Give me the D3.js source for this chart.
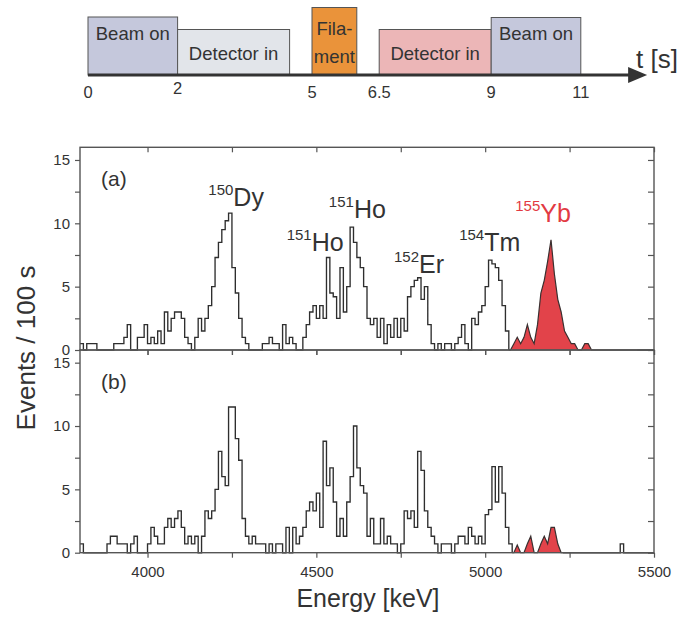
<!DOCTYPE html>
<html>
<head>
<meta charset="utf-8">
<script src="https://cdn.jsdelivr.net/npm/d3@7"></script>
<style>
body { margin: 0; background: #fff; }
svg text { font-family: "Liberation Sans", Arial, Helvetica, sans-serif; fill: #333; }
</style>
</head>
<body>
<svg id="chart" width="697" height="619"></svg>
<script>
// --- timing scheme (seconds) ---
var phaseNames = ["Beam on", "Detector in", "Fila-|ment", "Detector in", "Beam on"];
var phaseStart = [0, 2, 5, 6.5, 9];
var phaseEnd = [2, 4.5, 6, 9, 11];
var timeTicks = [0, 2, 5, 6.5, 9, 11];

// --- spectra: events / 100 s per 10 keV bin, starting at 3800 keV ---
var binStart = 3800;
var binWidth = 10;
var countsA = [
  0.5, 0, 0.5, 0.5, 0.5, 0, 0, 0, 0, 0,            // 3800
  0.5, 0.5, 0.5, 1, 2, 0, 0, 1, 1, 2,              // 3900
  0.5, 1, 0.5, 1.5, 0.5, 3, 1.5, 2.5, 3, 3,        // 4000
  2.5, 1, 0.5, 0, 1, 2.5, 1.5, 2.5, 3.5, 5,        // 4100
  7.3, 8.5, 9.5, 10.2, 10.8, 6.5, 4.5, 2.5, 1, 0.5,// 4200
  0, 0, 0, 0, 0.5, 0.5, 1, 0.5, 0.5, 0,            // 4300
  2, 0.5, 1, 0.5, 0, 0, 1, 2, 3, 3.5,              // 4400
  2.5, 3.5, 2.5, 7.3, 4.5, 4.2, 2.5, 6.5, 3, 5,    // 4500
  9.7, 8.5, 7.3, 6.5, 5, 2.5, 2, 2.5, 1, 2.5,      // 4600
  0.5, 2, 1, 2.5, 1, 2.5, 1.5, 4.2, 5, 5.5,        // 4700
  5.7, 4, 5, 2, 0.5, 0, 0.5, 0, 0.5, 0.5,          // 4800
  0, 0.5, 1, 2, 0.5, 0, 2.5, 2, 3, 3.5,            // 4900
  5, 7.1, 6.8, 6.5, 5.5, 3.5, 1.5, 0, 0.5, 1,      // 5000
  0.5, 1, 2, 1, 0.5, 2, 4.5, 5.5, 7, 8.7,          // 5100
  6, 4, 3, 1.5, 1, 0.5, 0.5, 0, 0, 0.5,            // 5200
  0.5, 0, 0, 0, 0, 0, 0, 0, 0, 0,                  // 5300
  0, 0, 0, 0, 0, 0, 0, 0, 0, 0                     // 5400
];
var countsB = [
  0.7, 0, 0, 0, 0, 0, 0, 0, 0.7, 1.3,              // 3800
  1.3, 0.7, 0.7, 0.7, 0, 0.7, 1.3, 0, 0, 0,        // 3900
  0.7, 2, 1.3, 0.7, 0.7, 2, 2.7, 2, 2.7, 3.3,      // 4000
  2, 0.7, 1.3, 0.7, 1.3, 0, 1.3, 3.3, 2.7, 3.3,    // 4100
  5, 8, 6, 5.3, 11.5, 11.5, 9, 7.3, 2.7, 1.3,      // 4200
  0.7, 1.3, 0.7, 0.7, 0.7, 0, 0.7, 0, 0.7, 0.7,    // 4300
  0, 2, 0, 2, 0.7, 1.3, 2, 3.3, 4, 3.3,            // 4400
  4.7, 2, 8.8, 5.3, 6.7, 4, 1.3, 2.7, 1.3, 4,      // 4500
  6, 10, 6.7, 5.3, 4.7, 1.3, 2.7, 0.7, 0.7, 2.7,   // 4600
  0.7, 1.3, 0.7, 0.7, 0, 0.7, 3.3, 2.7, 3.3, 2,    // 4700
  8, 6.5, 3.3, 2, 1.3, 0.7, 0, 0.7, 0.7, 0.7,      // 4800
  0, 0.7, 1.3, 1.3, 0.7, 2, 1.3, 0.7, 1.3, 0.7,    // 4900
  3, 3.4, 6.8, 4, 6.8, 4.7, 2, 0.7, 0, 0.6,        // 5000
  0, 0, 0.7, 1.3, 0, 0, 0.7, 1.3, 0.7, 2,          // 5100
  2, 0.7, 0, 0, 0, 0, 0, 0, 0, 0,                  // 5200
  0, 0, 0, 0, 0, 0, 0, 0, 0, 0,                    // 5300
  0.7, 0, 0, 0, 0, 0, 0, 0, 0, 0                   // 5400
];
// energy range of the 155Yb line (filled red) in each panel
var redRangeA = [5070, 5450];
var redRangeB = [5080, 5230];

var energyTicks = [4000, 4250, 4500, 4750, 5000, 5250, 5500];
var energyLabels = [4000, 4500, 5000, 5500];
var countTicks = [0, 2.5, 5, 7.5, 10, 12.5, 15];

// isotope labels of panel (a): mass number, element, energy and height of text start
var isoMass = ["150", "151", "151", "152", "154", "155"];
var isoName = ["Dy", "Ho", "Ho", "Er", "Tm", "Yb"];
var isoE = [4180, 4412, 4537, 4730, 4923, 5089];
var isoY = [11.4, 7.8, 10.4, 6.1, 7.8, 10.1];

var energies = countsA.map(function(d, i) { return binStart + i * binWidth; });

var svg = d3.select("#chart");

// ---------- timing scheme on top ----------
function drawTiming() {
    var tx = d3.scaleLinear().domain([0, 11]).range([88, 580.8]);
    var axisY = 75;
    var boxTop = [17, 29.5, 7.5, 29.5, 17.5];
    var boxFill = ["#c5c8dc", "#e2e5ea", "#ea933a", "#ecb6b7", "#c5c8dc"];
    var g = svg.append("g");

    phaseNames.forEach(function(name, i) {
        var x0 = tx(phaseStart[i]), x1 = tx(phaseEnd[i]);
        g.append("rect")
            .attr("x", x0).attr("y", boxTop[i])
            .attr("width", x1 - x0).attr("height", axisY - boxTop[i])
            .attr("fill", boxFill[i])
            .attr("stroke", "#555").attr("stroke-width", 1);
        var lines = name.split("|");
        var cx = (x0 + x1) / 2;
        if (lines.length > 1) {
            g.append("text").attr("x", cx).attr("y", 35).attr("text-anchor", "middle")
                .style("font-size", "18.5px").text(lines[0]);
            g.append("text").attr("x", cx).attr("y", 63).attr("text-anchor", "middle")
                .style("font-size", "18.5px").text(lines[1]);
        } else {
            var ty = boxTop[i] < 20 ? 40 : 60;
            g.append("text").attr("x", cx).attr("y", ty).attr("text-anchor", "middle")
                .style("font-size", "18.5px").text(name);
        }
    });

    // time axis with arrow
    g.append("line")
        .attr("x1", tx(0)).attr("x2", tx(12.2))
        .attr("y1", axisY).attr("y2", axisY)
        .attr("stroke", "#333").attr("stroke-width", 3);
    var tip = tx(12.48);
    g.append("path")
        .attr("d", "M" + (tip - 19) + "," + (axisY - 8) + "L" + tip + "," + axisY + "L" + (tip - 19) + "," + (axisY + 8) + "Z")
        .attr("fill", "#333");
    g.append("text").attr("x", 636).attr("y", 68)
        .style("font-size", "26px").text("t [s]");

    timeTicks.forEach(function(t) {
        g.append("text")
            .attr("x", tx(t)).attr("y", t === 2 ? 94 : 98)
            .attr("text-anchor", "middle")
            .style("font-size", "16.5px")
            .text(t);
    });
}

// ---------- spectra ----------
var x = d3.scaleLinear().domain([3800, 5500]).range([80, 654]);
var yA = d3.scaleLinear().domain([0, 16]).range([350, 147.3]);
var yB = d3.scaleLinear().domain([0, 16]).range([552.7, 350]);

function stepPoints(vals, lo, hi) {
    var pts = [];
    vals.forEach(function(v, i) {
        var e = energies[i];
        if (e >= lo && e < hi) pts.push([e, v]);
    });
    if (pts.length) {
        var last = pts[pts.length - 1];
        pts.push([last[0] + binWidth, last[1]]);
        pts.push([last[0] + binWidth, 0]);
    }
    return pts;
}

function centerPoints(vals, lo, hi) {
    var pts = [[lo, 0]];
    vals.forEach(function(v, i) {
        var e = energies[i];
        if (e >= lo && e < hi) pts.push([e + binWidth / 2, v]);
    });
    pts.push([hi, 0]);
    return pts;
}

function drawPanel(vals, y, redRange, tag, showLabels) {
    var g = svg.append("g");

    var area = d3.area()
        .x(function(d) { return x(d[0]); })
        .y0(y(0))
        .y1(function(d) { return y(d[1]); });
    var lin = d3.line()
        .x(function(d) { return x(d[0]); })
        .y(function(d) { return y(d[1]); });
    var step = d3.line()
        .curve(d3.curveStepAfter)
        .x(function(d) { return x(d[0]); })
        .y(function(d) { return y(d[1]); });

    var redPts = centerPoints(vals, redRange[0], redRange[1]);
    g.append("path").datum(redPts)
        .attr("d", area)
        .attr("fill", "#e2434a");
    g.append("path").datum(redPts)
        .attr("d", lin)
        .attr("fill", "none")
        .attr("stroke", "#3a3030").attr("stroke-width", 1.2);

    [stepPoints(vals, 3800, redRange[0]), stepPoints(vals, redRange[1], 5500)].forEach(function(pts) {
        if (!pts.length) return;
        g.append("path").datum(pts)
            .attr("d", step)
            .attr("fill", "none")
            .attr("stroke", "#2e2e2e").attr("stroke-width", 1.35);
    });

    // frame
    g.append("rect")
        .attr("x", x(3800)).attr("y", y(16))
        .attr("width", x(5500) - x(3800)).attr("height", y(0) - y(16))
        .attr("fill", "none").attr("stroke", "#555").attr("stroke-width", 1.4);

    // left axis with labels
    var left = g.append("g")
        .attr("transform", "translate(" + x(3800) + ",0)")
        .call(d3.axisLeft(y).tickValues(countTicks).tickSize(5).tickSizeOuter(0).tickPadding(5)
            .tickFormat(function(d) { return d % 5 === 0 ? d : ""; }));
    // right axis, ticks inward
    var right = g.append("g")
        .attr("transform", "translate(" + x(5500) + ",0)")
        .call(d3.axisLeft(y).tickValues(countTicks).tickSize(6).tickSizeOuter(0).tickFormat(""));
    // top ticks inward
    var top = g.append("g")
        .attr("transform", "translate(0," + y(16) + ")")
        .call(d3.axisBottom(x).tickValues(energyTicks).tickSize(5).tickSizeOuter(0).tickFormat(""));
    // bottom ticks outward
    var bottom = g.append("g")
        .attr("transform", "translate(0," + y(0) + ")")
        .call(d3.axisBottom(x).tickValues(energyTicks).tickSize(5).tickSizeOuter(0).tickPadding(9)
            .tickFormat(function(d) { return showLabels && energyLabels.indexOf(d) >= 0 ? d : ""; }));

    [left, right, top, bottom].forEach(function(a) {
        a.select(".domain").remove();
        a.selectAll("line").attr("stroke", "#555").attr("stroke-width", 1.2);
        a.selectAll("text").style("font-size", "15px").style("font-family", null).attr("fill", "#333");
    });

    g.append("text")
        .attr("x", 101).attr("y", y(16) + 39)
        .style("font-size", "21px")
        .text(tag);
    return g;
}

function drawIsotopes(g) {
    isoName.forEach(function(name, i) {
        var t = g.append("text")
            .attr("x", x(isoE[i]))
            .attr("y", yA(isoY[i]))
            .attr("fill", i === 5 ? "#e23a43" : "#333")
            .style("fill", i === 5 ? "#e23a43" : "#333");
        t.append("tspan").style("font-size", "15px").attr("dy", -11).text(isoMass[i]);
        t.append("tspan").style("font-size", "25px").attr("dy", 11).text(name);
    });
}

drawTiming();
var panelA = drawPanel(countsA, yA, redRangeA, "(a)", false);
drawPanel(countsB, yB, redRangeB, "(b)", true);
drawIsotopes(panelA);

// axis titles
svg.append("text")
    .attr("transform", "translate(35,348) rotate(-90)")
    .attr("text-anchor", "middle")
    .style("font-size", "26px")
    .text("Events / 100 s");
svg.append("text")
    .attr("x", 368).attr("y", 607)
    .attr("text-anchor", "middle")
    .style("font-size", "25px")
    .text("Energy [keV]");
</script>
</body>
</html>
